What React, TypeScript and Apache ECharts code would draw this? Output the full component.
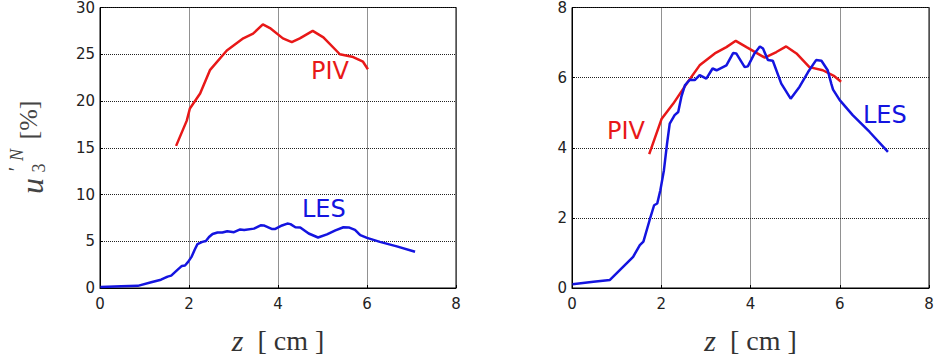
import React, { useEffect, useRef } from "react";
import * as echarts from "echarts";

// z positions [cm] and values [%]
const pivZLeft = [1.71, 1.95, 2.02, 2.25, 2.47, 2.85, 3.22, 3.44, 3.66, 3.82, 4.11, 4.31, 4.49, 4.78, 5.02, 5.39, 5.69, 5.91, 6.02];
const pivLeft = [15.2, 17.9, 19.2, 20.8, 23.3, 25.4, 26.7, 27.2, 28.2, 27.8, 26.7, 26.3, 26.7, 27.5, 26.8, 25.0, 24.7, 24.2, 23.4];

const pivZRight = [1.73, 2.01, 2.27, 2.57, 2.86, 3.2, 3.46, 3.67, 3.91, 4.32, 4.58, 4.8, 5.03, 5.32, 5.62, 5.88, 6.03];
const pivRight = [3.82, 4.83, 5.26, 5.83, 6.35, 6.69, 6.87, 7.05, 6.87, 6.57, 6.73, 6.89, 6.69, 6.3, 6.21, 6.04, 5.88];

const lesZ = [0.01, 0.48, 0.85, 1.15, 1.37, 1.52, 1.6, 1.74, 1.84, 1.91, 1.98, 2.06, 2.13, 2.19, 2.3, 2.38, 2.45, 2.53, 2.64, 2.75, 2.86, 3.01, 3.15, 3.24, 3.46, 3.61, 3.68, 3.87, 3.94, 4.09, 4.21, 4.28, 4.39, 4.5, 4.69, 4.9, 5.1, 5.29, 5.47, 5.59, 5.73, 5.81, 5.85, 6.0, 6.29, 6.67, 7.08];
const les = [0.11, 0.18, 0.23, 0.61, 0.89, 1.22, 1.32, 1.94, 2.36, 2.41, 2.79, 3.36, 4.12, 4.69, 4.93, 5.02, 5.45, 5.78, 5.94, 5.93, 6.07, 5.97, 6.26, 6.21, 6.35, 6.7, 6.69, 6.3, 6.32, 6.69, 6.89, 6.83, 6.5, 6.48, 5.83, 5.4, 5.74, 6.16, 6.5, 6.48, 6.21, 5.83, 5.66, 5.36, 4.93, 4.45, 3.88];

const xTicks = { min: 0, max: 8, interval: 2 };
const yLeftTicks = { min: 0, max: 30, interval: 5 };
const yRightTicks = { min: 0, max: 8, interval: 2 };

const RED = "#e81818";
const BLUE = "#1414e0";

const zip = (xs: number[], ys: number[]) => xs.map((x, i) => [x, ys[i]]);

export default function App() {
  const ref = useRef<HTMLDivElement>(null);
  useEffect(() => {
    if (!ref.current) return;
    const chart = echarts.init(ref.current, null, { renderer: "svg" });
    const axisLabel = { color: "#222", fontFamily: "DejaVu Sans", fontSize: 15 };
    const splitLine = { show: true, lineStyle: { color: "#222", type: "dotted", width: 1 } };
    const axisLine = { show: true, lineStyle: { color: "#000", width: 1 } };
    const axisTick = { show: true, inside: true, length: 3, lineStyle: { color: "#000" } };
    const xAxis = (gi: number) => ({
      type: "value", gridIndex: gi, ...xTicks,
      axisLabel: { ...axisLabel, margin: 8 }, splitLine, axisLine, axisTick,
      name: "{i|z}  [ cm ]", nameLocation: "middle", nameGap: 37,
      nameTextStyle: { fontFamily: "Liberation Serif", fontSize: 28, color: "#333",
        rich: { i: { fontFamily: "Liberation Serif", fontStyle: "italic", fontSize: 30, color: "#333" } } },
    });
    const yAxis = (gi: number, t: any) => ({
      type: "value", gridIndex: gi, ...t,
      axisLabel: { ...axisLabel, margin: 5 }, splitLine, axisLine, axisTick,
    });
    const lineSeries = (xi: number, data: number[][], color: string) => ({
      type: "line", xAxisIndex: xi, yAxisIndex: xi, data, showSymbol: false, symbol: "none",
      lineStyle: { color, width: 2.5 }, smooth: false,
    });
    const lbl = (text: string, x: number, y: number, color: string) => ({
      type: "text", x, y,
      style: { text, fill: color, font: "24px 'DejaVu Sans'", align: "left", verticalAlign: "middle", textAlign: "left", textVerticalAlign: "middle" },
    });
    const yt = (text: string, x: number, y: number, font: string) => ({
      type: "text", x, y,
      style: { text, fill: "#444", font, align: "center", verticalAlign: "middle", textAlign: "center", textVerticalAlign: "middle" },
    });
    chart.setOption({
      animation: false,
      backgroundColor: "#fff",
      grid: [
        { left: 100, top: 7, width: 356, height: 281, show: true, borderColor: "#000", borderWidth: 1 },
        { left: 572, top: 7, width: 357, height: 281, show: true, borderColor: "#000", borderWidth: 1 },
      ],
      xAxis: [xAxis(0), xAxis(1)],
      yAxis: [yAxis(0, yLeftTicks), yAxis(1, yRightTicks)],
      series: [
        lineSeries(0, zip(pivZLeft, pivLeft), RED),
        lineSeries(0, zip(lesZ, les), BLUE),
        lineSeries(1, zip(pivZRight, pivRight), RED),
        lineSeries(1, zip(lesZ, les), BLUE),
      ],
      graphic: [
        lbl("PIV", 311, 71, RED),
        lbl("LES", 302, 209, BLUE),
        lbl("PIV", 607, 131, RED),
        lbl("LES", 863, 115, BLUE),
        {
          type: "group", x: 30, y: 150, rotation: Math.PI / 2,
          children: [
            yt("u", -36, 2, "italic 32px 'Liberation Serif'"),
            yt("\u2032", -19, -14, "20px 'Liberation Serif'"),
            yt("3", -18, 9, "18px 'Liberation Serif'"),
            yt("N", -5, -13, "italic 18px 'Liberation Serif'"),
            yt("[%]", 30, -2, "26px 'Liberation Serif'"),
          ],
        },
      ],
    });
    return () => chart.dispose();
  }, []);
  return <div ref={ref} style={{ position: "fixed", left: 0, top: 0, width: 937, height: 363 }} />;
}
